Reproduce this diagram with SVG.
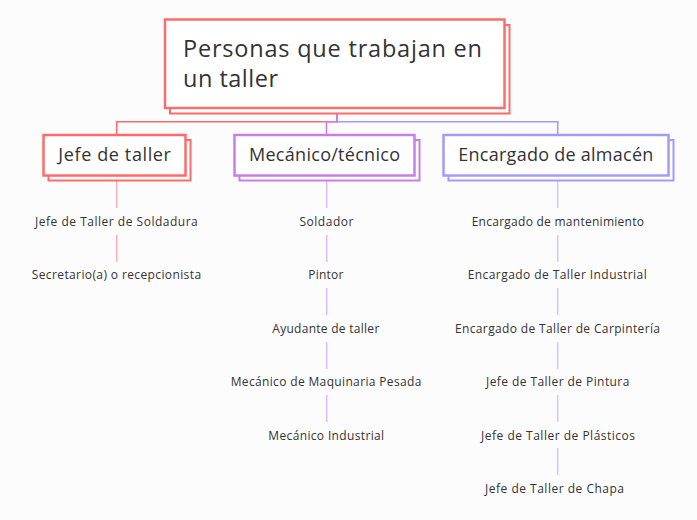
<svg xmlns="http://www.w3.org/2000/svg" width="697" height="520" viewBox="0 0 697 520">
<style>
.bg{fill:#fdfcfc}
.box{fill:#ffffff}
.sh{fill:#ffffff;stroke-width:2}
.main{stroke-width:2.5}
.red{stroke:#ff6b6b}
.pur{stroke:#c77ee9}
.blu{stroke:#a29bfe}
.conn{fill:none;stroke-width:1.6}
.sub{fill:none;stroke-width:1.6;stroke-opacity:0.5}
text{font-family:"Open Sans","Noto Sans","Liberation Sans",sans-serif;fill:#333333}
.title{font-size:23.5px}
.head{font-size:18px;text-anchor:middle}
.item{font-size:12px;text-anchor:middle}
</style>
<rect class="bg" x="0" y="0" width="697" height="520"/>
<g id="connectors">
<path class="conn red" d="M337,108 V121.7 H116.7 V135"/>
<path class="conn blu" d="M337,108 V121.7 H557.7 V135"/>
<path class="conn pur" d="M337,108 V121.7 H326.5 V135"/>
<path class="sub red" d="M116.7,180 V208 M116.7,235 V262"/>
<path class="sub pur" d="M326.7,180 V208 M326.7,235 V262 M326.7,288 V315 M326.7,342 V369 M326.7,395 V422"/>
<path class="sub blu" d="M557.7,180 V208 M557.7,235 V262 M557.7,288 V315 M557.7,342 V369 M557.7,395 V422 M557.7,448 V475"/>
</g>
<g id="root">
<rect class="sh red" x="170" y="25" width="339.5" height="88.5"/>
<rect class="box main red" x="165" y="19.5" width="339.5" height="88.5"/>
<text class="title" x="183" y="56.7" textLength="299" lengthAdjust="spacing">Personas que trabajan en</text>
<text class="title" x="183" y="87" textLength="95" lengthAdjust="spacing">un taller</text>
</g>
<g id="jefe-de-taller">
<rect class="sh red" x="48.5" y="140" width="142" height="40.5"/>
<rect class="box main red" x="43.5" y="135" width="142" height="40.5"/>
<text class="head" x="114.6" y="161" textLength="112.7" lengthAdjust="spacing">Jefe de taller</text>
</g>
<g id="mecanico-tecnico">
<rect class="sh pur" x="239.5" y="140" width="180" height="40.5"/>
<rect class="box main pur" x="234.5" y="135" width="180" height="40.5"/>
<text class="head" x="324.5" y="161" textLength="151" lengthAdjust="spacing">Mecánico/técnico</text>
</g>
<g id="encargado-de-almacen">
<rect class="sh blu" x="448.5" y="140" width="225" height="40.5"/>
<rect class="box main blu" x="443.5" y="135" width="225" height="40.5"/>
<text class="head" x="555.8" y="161" textLength="195" lengthAdjust="spacing">Encargado de almacén</text>
</g>
<g id="jefe-items">
<g id="jefe-taller-soldadura"><text class="item" x="116.4" y="225.7" textLength="162.7" lengthAdjust="spacing">Jefe de Taller de Soldadura</text></g>
<g id="secretario"><text class="item" x="116.4" y="279" textLength="169.3" lengthAdjust="spacing">Secretario(a) o recepcionista</text></g>
</g>
<g id="mecanico-items">
<g id="soldador"><text class="item" x="326.4" y="225.7" textLength="54" lengthAdjust="spacing">Soldador</text></g>
<g id="pintor"><text class="item" x="325.8" y="279" textLength="35" lengthAdjust="spacing">Pintor</text></g>
<g id="ayudante"><text class="item" x="325.8" y="332.7" textLength="107" lengthAdjust="spacing">Ayudante de taller</text></g>
<g id="mecanico-maquinaria"><text class="item" x="326" y="386" textLength="190.7" lengthAdjust="spacing">Mecánico de Maquinaria Pesada</text></g>
<g id="mecanico-industrial"><text class="item" x="326.2" y="440" textLength="115.7" lengthAdjust="spacing">Mecánico Industrial</text></g>
</g>
<g id="encargado-items">
<g id="enc-mantenimiento"><text class="item" x="557.8" y="225.7" textLength="172.3" lengthAdjust="spacing">Encargado de mantenimiento</text></g>
<g id="enc-industrial"><text class="item" x="557.2" y="279" textLength="179" lengthAdjust="spacing">Encargado de Taller Industrial</text></g>
<g id="enc-carpinteria"><text class="item" x="557.5" y="332.7" textLength="205" lengthAdjust="spacing">Encargado de Taller de Carpintería</text></g>
<g id="jefe-pintura"><text class="item" x="557.7" y="386" textLength="143.3" lengthAdjust="spacing">Jefe de Taller de Pintura</text></g>
<g id="jefe-plasticos"><text class="item" x="558" y="440" textLength="154" lengthAdjust="spacing">Jefe de Taller de Plásticos</text></g>
<g id="jefe-chapa"><text class="item" x="554.5" y="493.3" textLength="139" lengthAdjust="spacing">Jefe de Taller de Chapa</text></g>
</g>
</svg>
